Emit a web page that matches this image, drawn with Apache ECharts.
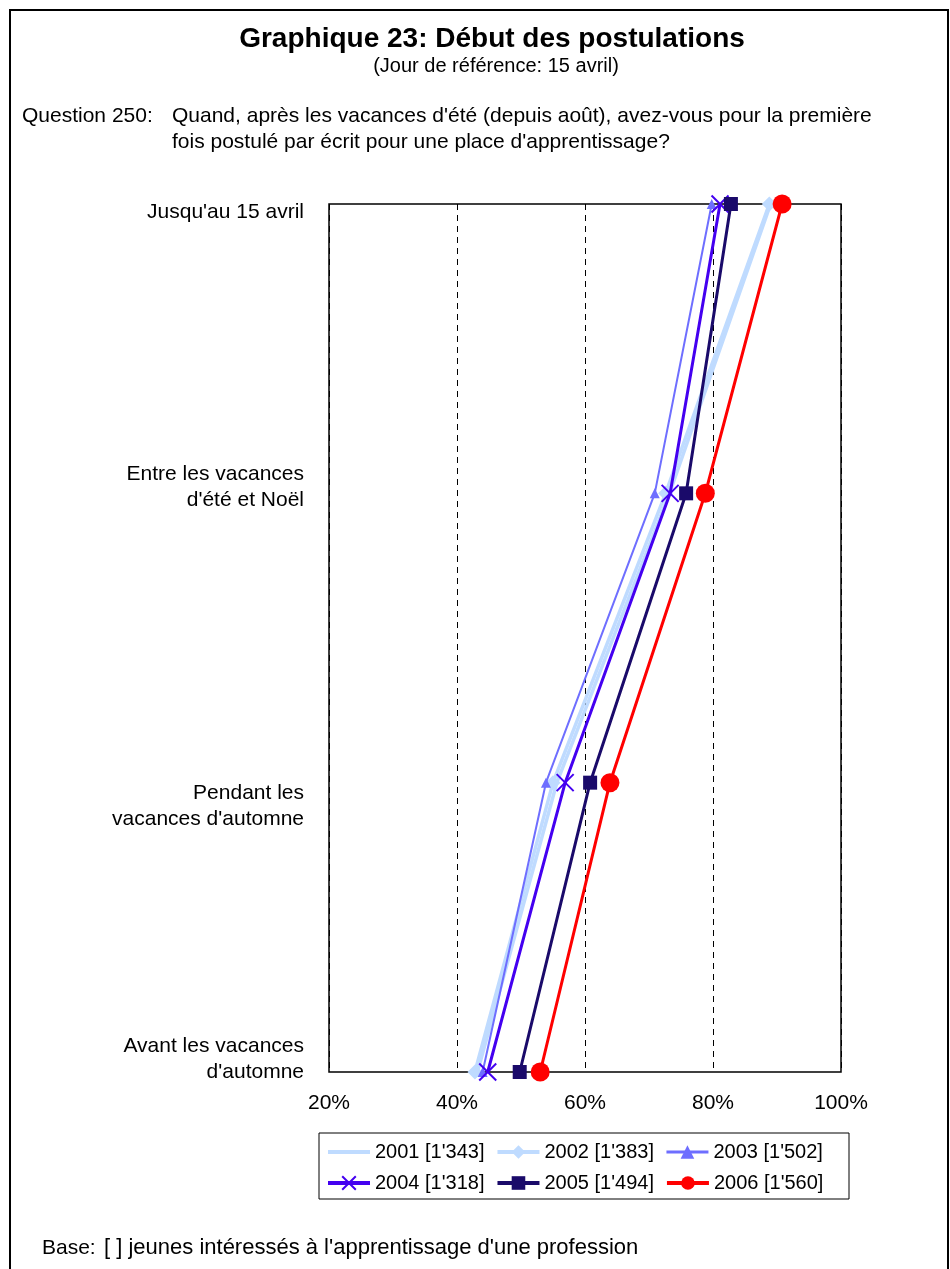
<!DOCTYPE html>
<html><head><meta charset="utf-8">
<script src="https://cdn.jsdelivr.net/npm/echarts@6/dist/echarts.min.js"></script>
<style>html,body{margin:0;padding:0;background:#fff}#c{width:950px;height:1269px}</style>
</head><body><div id="c"></div>
<script>
const categories = ["Jusqu'au 15 avril", "Entre les vacances\nd'été et Noël", "Pendant les\nvacances d'automne", "Avant les vacances\nd'automne"];
const seriesNames = ["2001 [1'343]", "2002 [1'383]", "2003 [1'502]", "2004 [1'318]", "2005 [1'494]", "2006 [1'560]"];
const v2001 = [89.0, 73.2, 55.6, 43.2];
const v2002 = [88.8, 72.6, 55.0, 42.8];
const v2003 = [79.8, 70.9, 53.9, 44.0];
const v2004 = [81.1, 73.3, 56.9, 44.8];
const v2005 = [82.8, 75.8, 60.8, 49.8];
const v2006 = [90.8, 78.8, 63.9, 53.0];
const xTicks = [20, 40, 60, 80, 100];

const styles = [
  {color:'#BFDBFF', width:3.5, symbol:'none', size:0},
  {color:'#BFDBFF', width:3.5, symbol:'diamond', size:15},
  {color:'#6E6EFF', width:2, symbol:'triangle', size:10},
  {color:'#4400F0', width:3, symbol:'path://M0,0L10,10M10,0L0,10', size:17},
  {color:'#1A0A6A', width:3, symbol:'rect', size:14},
  {color:'#FF0000', width:3, symbol:'circle', size:19}
];
const allVals = [v2001, v2002, v2003, v2004, v2005, v2006];
// vertical nudge of each category label (px, + = down)
const labelShift = [8, -6, 24, -13];

const FONT = 'Liberation Sans, Arial, sans-serif';
const FS = 21;
const rich = {t:{fontSize:FS, lineHeight:26, color:'#000', fontFamily:FONT, align:'right'}};
labelShift.forEach((s,i)=>{ rich['g'+i] = {fontSize:2, lineHeight:Math.max(1, Math.abs(s)*2)}; });

function yFormatter(value, idx){
  const i = categories.indexOf(value);
  const s = labelShift[i] || 0;
  const body = value.split('\n').map(l=>'{t|'+l+'}').join('\n');
  if (s > 0) return '{g'+i+'| }\n' + body;
  if (s < 0) return body + '\n{g'+i+'| }';
  return body;
}

const chart = echarts.init(document.getElementById('c'), null, {renderer:'canvas'});
chart.setOption({
  animation:false,
  backgroundColor:'#fff',
  textStyle:{fontFamily:FONT},
  title:[
    {text:'Graphique 23: Début des postulations', left:487, textAlign:'center', top:20, textStyle:{fontSize:28, fontWeight:'bold', color:'#000', fontFamily:FONT}},
    {text:'(Jour de référence: 15 avril)', left:491, textAlign:'center', top:51, textStyle:{fontSize:FS-1, fontWeight:'normal', color:'#000', fontFamily:FONT}}
  ],
  graphic:[
    {type:'rect', shape:{x:10, y:10, width:938, height:1270}, style:{fill:'none', stroke:'#000', lineWidth:2}, silent:true},
    {type:'text', left:22, top:103, style:{text:'Question 250:', fontSize:FS, lineHeight:26, fill:'#000', fontFamily:FONT}},
    {type:'text', left:172, top:103, style:{text:"Quand, après les vacances d'été (depuis août), avez-vous pour la première\nfois postulé par écrit pour une place d'apprentissage?", fontSize:FS, lineHeight:26, fill:'#000', fontFamily:FONT}},
    {type:'text', left:42, top:1235, style:{text:'Base:', fontSize:FS, lineHeight:26, fill:'#000', fontFamily:FONT}},
    {type:'text', left:104, top:1235, style:{text:"[ ] jeunes intéressés à l'apprentissage d'une profession", fontSize:22, lineHeight:26, fill:'#000', fontFamily:FONT}},
    {type:'rect', shape:{x:319, y:1133, width:530, height:66}, style:{fill:'none', stroke:'#000', lineWidth:1}, silent:true}
  ],
  grid:{left:329, right:109, top:204, bottom:197, show:true, borderColor:'#000', borderWidth:1.5, backgroundColor:'#fff'},
  xAxis:{type:'value', min:20, max:100, interval:20,
    axisLine:{show:false}, axisTick:{show:false},
    splitLine:{show:true, lineStyle:{color:'#000', type:[6,5], width:1}},
    axisLabel:{formatter:v=>xTicks.includes(v)?v+'%':'', fontSize:FS, color:'#000', margin:21, fontFamily:FONT}
  },
  yAxis:{type:'category', inverse:true, boundaryGap:false, data:categories,
    axisLine:{show:false}, axisTick:{show:false}, splitLine:{show:false},
    axisLabel:{fontSize:FS, color:'#000', margin:25, lineHeight:26, align:'right', fontFamily:FONT, formatter:yFormatter, rich:rich}
  },
  legend:{
    orient:'horizontal', left:326, top:1142, width:620, itemGap:11, padding:0,
    itemWidth:42, itemHeight:17,
    textStyle:{fontSize:20, color:'#000', fontFamily:FONT},
    data: seriesNames.map((n,i)=>{
      const d = {name:n, lineStyle:{width: i===2 ? 3 : 4}};
      if (i===0) d.itemStyle = {color:'rgba(0,0,0,0)', borderColor:'rgba(0,0,0,0)', borderWidth:0};
      return d;
    })
  },
  series: seriesNames.map((n,i)=>({
    name:n, type:'line', data:allVals[i].map((v,j)=>[v, categories[j]]),
    symbol:styles[i].symbol, symbolSize:styles[i].size, showSymbol:styles[i].symbol!=='none',
    lineStyle:{color:styles[i].color, width:styles[i].width},
    itemStyle:{color:styles[i].color, borderColor:styles[i].color, borderWidth: i===3?2:0},
    z: i+2
  }))
});
</script></body></html>
